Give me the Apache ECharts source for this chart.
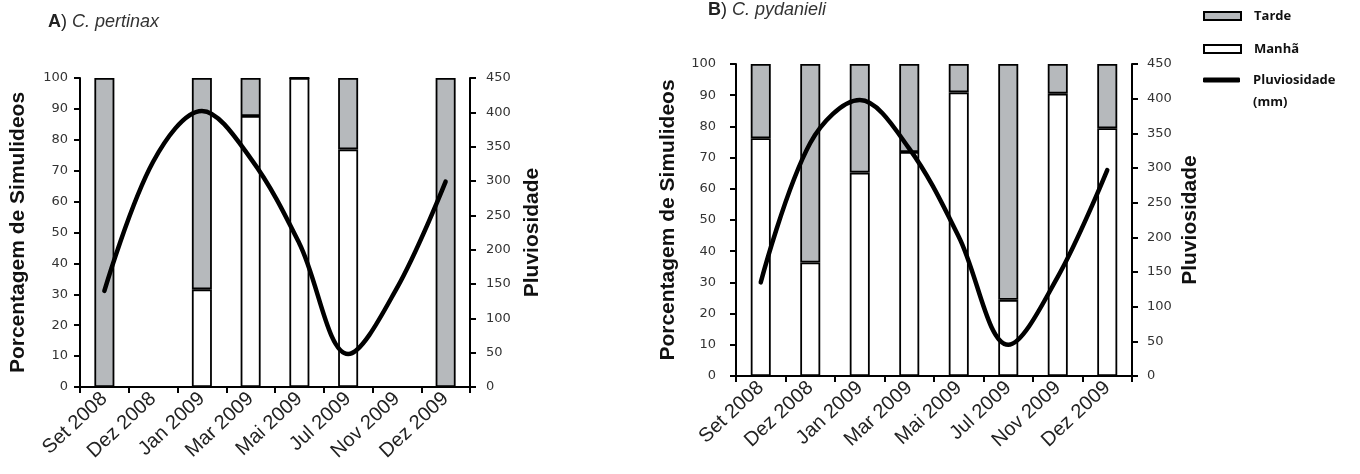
<!DOCTYPE html>
<html>
<head>
<meta charset="utf-8">
<script src="https://cdn.jsdelivr.net/npm/echarts@6/dist/echarts.min.js"></script>
<style>
  html, body { margin: 0; padding: 0; background: #fff; }
  #chart { width: 1360px; height: 474px; }
</style>
</head>
<body>
<div id="chart"></div>
<script>
const categories = ['Set 2008', 'Dez 2008', 'Jan 2009', 'Mar 2009', 'Mai 2009', 'Jul 2009', 'Nov 2009', 'Dez 2009']

// A) C. pertinax  (null = sem coleta)
const manhaA = [0, null, 31.6, 87.7, 100, 76.9, null, 0]
const tardeA = [100, null, 68.4, 12.3, 0, 23.1, null, 100]
const chuvaA = [140, 328, 402, 333, 209, 48, 144, 299]

// B) C. pydanieli
const manhaB = [76.2, 36.4, 65.2, 71.8, 90.9, 24.4, 90.5, 79.4]
const tardeB = [23.8, 63.6, 34.8, 28.2, 9.1, 75.6, 9.5, 20.6]
const chuvaB = [135, 336, 398, 328, 201, 45, 143, 297]

const pctTicks = { min: 0, max: 100, interval: 10 }
const chuvaTicks = { min: 0, max: 450, interval: 50 }

const GRAY = '#b6b9bc'
const axisLine = { show: true, lineStyle: { color: '#000', width: 2 } }
const axisTick = { show: true, inside: false, length: 6, lineStyle: { color: '#000', width: 2 } }
const tickLabel = { fontFamily: 'DejaVu Sans', fontSize: 13, color: '#333' }
const titleFont = { fontFamily: 'Liberation Sans', fontSize: 21, fontWeight: 'bold', color: '#111' }
const legendFont = { fontFamily: 'Open Sans', fontWeight: 'bold', fontSize: 13, color: '#111' }

const xAxisFor = (gridIndex) => ({
  type: 'category',
  gridIndex,
  data: categories,
  boundaryGap: true,
  axisLine,
  axisTick: { ...axisTick, interval: 0 },
  axisLabel: {
    interval: 0, rotate: 43, margin: 9,
    fontFamily: 'Liberation Sans', fontSize: 20, color: '#222'
  },
  splitLine: { show: false }
})

const leftAxis = (gridIndex, margin, nameGap) => ({
  type: 'value', gridIndex, position: 'left', ...pctTicks,
  name: 'Porcentagem de Simulideos', nameLocation: 'middle', nameGap,
  nameTextStyle: titleFont,
  axisLine, axisTick,
  axisLabel: { ...tickLabel, margin },
  splitLine: { show: false }
})

const rightAxis = (gridIndex, margin, nameGap) => ({
  type: 'value', gridIndex, position: 'right', ...chuvaTicks,
  name: 'Pluviosidade', nameLocation: 'middle', nameGap,
  nameTextStyle: titleFont,
  axisLine, axisTick,
  axisLabel: { ...tickLabel, margin },
  splitLine: { show: false }
})

const barSeries = (name, data, color, idx) => ({
  name, type: 'bar', stack: 'g' + idx,
  xAxisIndex: idx, yAxisIndex: idx * 2,
  data, barWidth: 20,
  itemStyle: { color, borderColor: '#000', borderWidth: 1.8 },
  z: 2
})

const lineSeries = (data, idx) => ({
  name: 'Pluviosidade', type: 'line',
  xAxisIndex: idx, yAxisIndex: idx * 2 + 1,
  data, smooth: 0.35, showSymbol: false, symbol: 'none',
  lineStyle: { color: '#000', width: 4.5, cap: 'round' },
  itemStyle: { color: '#000' },
  z: 5
})

const titleRich = {
  b: { fontFamily: 'Liberation Sans', fontSize: 18, fontWeight: 'bold', color: '#222' },
  n: { fontFamily: 'Liberation Sans', fontSize: 18, fontWeight: 'normal', color: '#222' },
  i: { fontFamily: 'Liberation Sans', fontSize: 18, fontWeight: 'normal', fontStyle: 'italic', color: '#333' }
}

const chart = echarts.init(document.getElementById('chart'))

chart.setOption({
  animation: false,
  title: [
    { left: 48, top: 13, padding: 0, text: '{b|A}{n|)} {i|C. pertinax}', textStyle: { rich: titleRich } },
    { left: 708, top: 1, padding: 0, text: '{b|B}{n|)} {i|C. pydanieli}', textStyle: { rich: titleRich } }
  ],
  legend: [
    {
      orient: 'vertical', left: 1203, top: 7, padding: 0,
      itemWidth: 37, itemHeight: 8, itemGap: 15,
      data: [{ name: 'Tarde', icon: 'rect' }, { name: 'Manhã', icon: 'rect' }],
      textStyle: { ...legendFont, lineHeight: 18, padding: [0, 0, 0, 8] }
    },
    {
      orient: 'vertical', left: 1203, top: 47, padding: 0,
      itemWidth: 37, itemHeight: 5,
      data: [{ name: 'Pluviosidade', icon: 'roundRect' }],
      itemStyle: { color: '#000', borderWidth: 0 },
      // linha em branco antes para o ícone ficar alinhado com a primeira linha
      formatter: () => '\u00a0\nPluviosidade\n(mm)',
      textStyle: { ...legendFont, lineHeight: 22, padding: [0, 0, 0, 8] }
    }
  ],
  grid: [
    { left: 80, top: 78, width: 390, height: 309 },
    { left: 736, top: 64, width: 396, height: 312 }
  ],
  xAxis: [xAxisFor(0), xAxisFor(1)],
  yAxis: [
    leftAxis(0, 12, 51),
    rightAxis(0, 16, 52),
    leftAxis(1, 20, 57),
    rightAxis(1, 15, 48)
  ],
  series: [
    barSeries('Manhã', manhaA, '#fff', 0),
    barSeries('Tarde', tardeA, GRAY, 0),
    lineSeries(chuvaA, 0),
    barSeries('Manhã', manhaB, '#fff', 1),
    barSeries('Tarde', tardeB, GRAY, 1),
    lineSeries(chuvaB, 1)
  ]
})

window.addEventListener('resize', () => chart.resize())
</script>
</body>
</html>
